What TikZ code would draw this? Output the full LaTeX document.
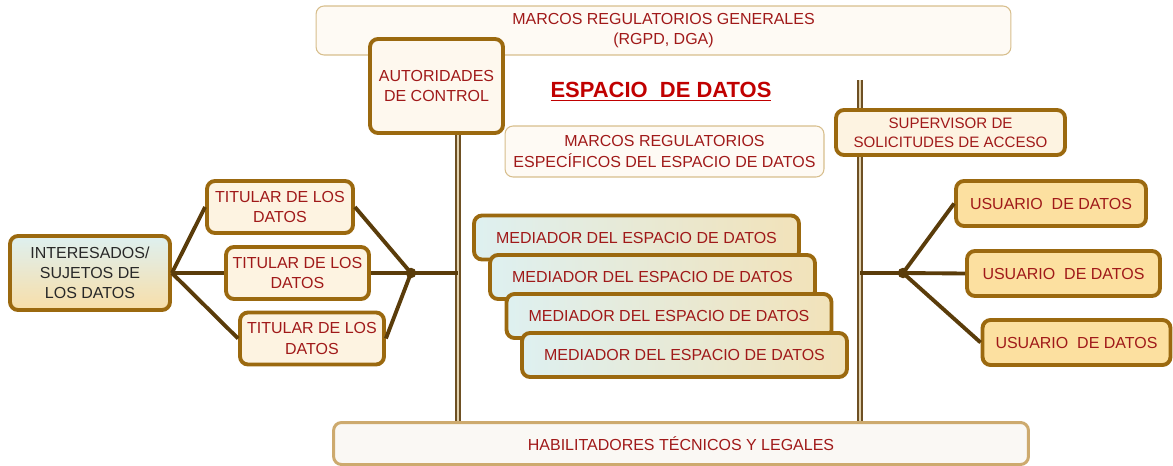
\documentclass[tikz,border=0pt]{standalone}
\usepackage{fontspec}
\setmainfont{Liberation Sans}
\definecolor{boxbrown}{RGB}{155,105,15}
\definecolor{textred}{RGB}{160,25,25}
\definecolor{titlered}{RGB}{192,0,0}
\definecolor{linebrown}{RGB}{90,60,10}
\definecolor{polebrown}{RGB}{110,80,35}
\definecolor{poletan}{RGB}{225,210,175}
\definecolor{creamfill}{RGB}{253,243,225}
\definecolor{palefill}{RGB}{254,248,238}
\definecolor{userfill}{RGB}{252,224,160}
\definecolor{thinborder}{RGB}{215,190,140}
\definecolor{thinfill}{RGB}{254,250,244}
\definecolor{habborder}{RGB}{205,170,110}
\definecolor{habfill}{RGB}{250,248,244}
\definecolor{paleblue}{RGB}{222,240,240}
\definecolor{paleorange}{RGB}{248,222,168}
\definecolor{darkgrey}{RGB}{40,40,40}
\begin{document}
\begin{tikzpicture}[x=0.02cm,y=-0.02cm,
        every node/.style={font=\fontsize{9.1}{11.4}\selectfont, text=textred, align=center, inner sep=1pt},
        thinbox/.style={draw=thinborder, line width=0.6pt, fill=thinfill, rounded corners=0.16cm},
        thickbox/.style={draw=boxbrown, line width=2.2pt, rounded corners=0.16cm},
        titularbox/.style={thickbox, fill=creamfill, minimum height=1.04cm},
        userbox/.style={thickbox, fill=userfill, minimum height=0.9cm},
        medbox/.style={thickbox, left color=paleblue, middle color=paleblue, right color=paleorange!75!paleblue, minimum width=6.5cm, minimum height=0.88cm},
        link/.style={draw=linebrown, line width=2.2pt},
        pole/.style={draw=polebrown, line width=0.8pt, double=poletan, double distance=1.6pt},
        hubdot/.style={circle, fill=linebrown, inner sep=0pt, minimum size=0.21cm}]
        \useasboundingbox (0,0) rectangle (1173,466);

        %the two vertical poles of the data space
        \coordinate (poleLtop) at (458,133);
        \coordinate (poleLbot) at (458,424);
        \coordinate (poleRtop) at (860,80);
        \coordinate (poleRbot) at (860,424);
        \draw[pole] (poleLtop) -- (poleLbot);
        \draw[pole] (poleRtop) -- (poleRbot);

        %frameworks and title
        \node[thinbox, minimum width=13.9cm, minimum height=0.98cm] (general) at (663.5,30.5) {MARCOS REGULATORIOS GENERALES\\(RGPD, DGA)};
        \node[thickbox, fill=palefill, minimum width=2.66cm, minimum height=1.88cm] (control) at (436.5,86) {AUTORIDADES\\DE CONTROL};
        \node[font=\fontsize{12.5}{14}\selectfont\bfseries, text=titlered] (title) at (661,92) {\underline{ESPACIO\ \ DE DATOS}};
        \node[thinbox, minimum width=6.38cm, minimum height=1.02cm] (specific) at (664.5,151.5) {MARCOS REGULATORIOS\\ESPECÍFICOS DEL ESPACIO DE DATOS};
        \node[thickbox, fill=creamfill, minimum width=4.58cm, minimum height=0.9cm, font=\fontsize{8.6}{11}\selectfont] (supervisor) at (950.5,132.5) {SUPERVISOR DE\\SOLICITUDES DE ACCESO};

        %left side: data subjects and holders
        \node[thickbox, top color=paleblue, middle color=paleblue, bottom color=paleorange, minimum width=3.2cm, minimum height=1.48cm, text=darkgrey] (subjects) at (90,273) {INTERESADOS/\\SUJETOS DE\\LOS DATOS};
        \node[titularbox, minimum width=2.92cm] (holder1) at (280,207) {TITULAR DE LOS\\DATOS};
        \node[titularbox, minimum width=2.86cm] (holder2) at (297.5,273) {TITULAR DE LOS\\DATOS};
        \node[titularbox, minimum width=2.88cm] (holder3) at (312,338.5) {TITULAR DE LOS\\DATOS};
        \node[hubdot] (hubL) at (411,273) {};

        \draw[link] (subjects.east) -- (holder1.west);
        \draw[link] (subjects.east) -- (holder2.west);
        \draw[link] (subjects.east) -- (holder3.west);
        \draw[link] (holder1.east) -- (hubL.center);
        \draw[link] (holder2.east) -- (hubL.center);
        \draw[link] (holder3.east) -- (hubL.center);
        \draw[link] (hubL.center) -- (hubL -| poleLtop);

        %stacked intermediaries
        \node[medbox] (mediator1) at (636.5,237.5) {MEDIADOR DEL ESPACIO DE DATOS};
        \node[medbox] (mediator2) at (652.5,277) {MEDIADOR DEL ESPACIO DE DATOS};
        \node[medbox] (mediator3) at (669,316) {MEDIADOR DEL ESPACIO DE DATOS};
        \node[medbox] (mediator4) at (684.5,355) {MEDIADOR DEL ESPACIO DE DATOS};

        %right side: data users
        \node[userbox, minimum width=3.8cm] (user1) at (1051,203.5) {USUARIO\ \ DE DATOS};
        \node[userbox, minimum width=3.86cm] (user2) at (1063.5,273.5) {USUARIO\ \ DE DATOS};
        \node[userbox, minimum width=3.76cm] (user3) at (1076.5,342.5) {USUARIO\ \ DE DATOS};
        \node[hubdot] (hubR) at (903,273) {};

        \draw[link] (hubR -| poleRtop) -- (hubR.center);
        \draw[link] (hubR.center) -- (user1.west);
        \draw[link] (hubR.center) -- (user2.west);
        \draw[link] (hubR.center) -- (user3.west);

        %enablers at the bottom
        \node[draw=habborder, line width=1.7pt, fill=habfill, rounded corners=0.16cm, minimum width=13.9cm, minimum height=0.84cm] (enablers) at (681,443.5) {HABILITADORES TÉCNICOS Y LEGALES};
\end{tikzpicture}
\end{document}
